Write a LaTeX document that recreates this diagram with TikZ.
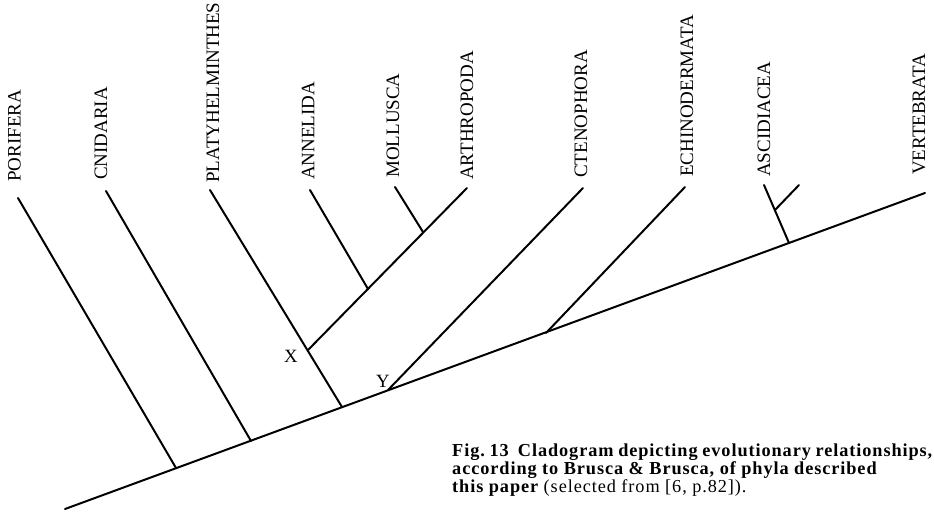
\documentclass[tikz,border=0pt]{standalone}
\usepackage{fontspec}
\setmainfont{Liberation Serif}
\newfontfamily\capfont[LetterSpace=5]{Liberation Serif}
\usepackage{tikz}

\begin{document}
\begin{tikzpicture}[x=0.03cm, y=-0.03cm,
  br/.style={line width=1.7pt, line cap=round},
  tx/.style={rotate=90, anchor=west, inner sep=0pt, font=\fontsize{16.2}{18}\selectfont},
  ptlbl/.style={inner sep=0pt, font=\fontsize{16}{18}\selectfont},
  captxt/.style={anchor=base west, inner sep=0pt, font=\capfont\fontsize{15.6}{18}\selectfont}
]
\useasboundingbox (0,0) rectangle (934,515);
% stem and points on it
\coordinate (root) at (65,509);
\coordinate (vert) at (925,193);
\coordinate (jpor) at (176,468);
\coordinate (jcni) at (251,441);
\coordinate (jpla) at (342,407);
\coordinate (Y) at (388,390);
\coordinate (jech) at (546,333);
\coordinate (jasc) at (789,243);
% inner nodes
\coordinate (X) at (308,350);
\coordinate (jann) at (368,289);
\coordinate (jmol) at (423,232);
\coordinate (jas2) at (775,210);
% branch tips
\coordinate (por) at (18,198);
\coordinate (cni) at (106,191);
\coordinate (pla) at (210,190);
\coordinate (ann) at (310,190);
\coordinate (mol) at (395,187);
\coordinate (art) at (467,188);
\coordinate (cte) at (583,188);
\coordinate (ech) at (685,187);
\coordinate (asc) at (764,185);
\coordinate (as2) at (799,185);

\draw[br] (root) -- (vert);
\draw[br] (jpor) -- (por);
\draw[br] (jcni) -- (cni);
\draw[br] (jpla) -- (pla);
\draw[br] (X) -- (art);
\draw[br] (jann) -- (ann);
\draw[br] (jmol) -- (mol);
\draw[br] (Y) -- (cte);
\draw[br] (jech) -- (ech);
\draw[br] (jasc) -- (asc);
\draw[br] (jas2) -- (as2);

\node[tx] (tpor) at (14.5,182) {PORIFERA};
\node[tx] (tcni) at (101,180) {CNIDARIA};
\node[tx] (tpla) at (213,183) {PLATYHELMINTHES};
\node[tx] (tann) at (308,180) {ANNELIDA};
\node[tx] (tmol) at (393,178) {MOLLUSCA};
\node[tx] (tart) at (467,180) {ARTHROPODA};
\node[tx] (tcte) at (581,178) {CTENOPHORA};
\node[tx] (tech) at (687,177) {ECHINODERMATA};
\node[tx] (tasc) at (764,177) {ASCIDIACEA};
\node[tx] (tver) at (919,175) {VERTEBRATA};

\node[ptlbl] (lx) at (291,356) {X};
\node[ptlbl] (ly) at (383,381) {Y};

\node[captxt] (cap1) at (452,456) {\makebox[14.4cm][s]{\bfseries Fig.\ 13\enspace Cladogram depicting evolutionary relationships,}};
\node[captxt] (cap2) at (452,474) {\bfseries according to Brusca \& Brusca, of phyla described};
\node[captxt] (cap3) at (452,492) {{\bfseries this paper} (selected from [6, p.82]).};
\end{tikzpicture}
\end{document}
